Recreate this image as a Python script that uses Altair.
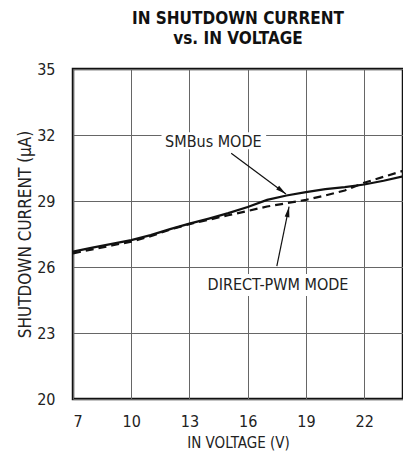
import altair as alt
import pandas as pd

# ---- data ----
volt = [7, 8, 9, 10, 11, 12, 13, 14, 15, 16, 17, 18, 19, 20, 21, 22, 23, 24]
smbus = [26.70, 26.88, 27.05, 27.22, 27.45, 27.72, 27.97, 28.20, 28.45, 28.73,
         29.05, 29.25, 29.40, 29.54, 29.63, 29.75, 29.92, 30.12]
pwm = [26.62, 26.80, 26.98, 27.15, 27.40, 27.70, 27.95, 28.15, 28.35, 28.55,
       28.75, 28.90, 29.05, 29.25, 29.48, 29.83, 30.10, 30.37]

x_ticks = [7, 10, 13, 16, 19, 22]
y_ticks = [20, 23, 26, 29, 32, 35]

labels = ["SMBus MODE", "DIRECT-PWM MODE"]
label_x = [14.23, 17.56]
label_y = [31.70, 25.18]
arrow_x1 = [15.15, 17.50]
arrow_y1 = [31.17, 26.04]
arrow_x2 = [17.97, 18.13]
arrow_y2 = [29.32, 28.74]
arrow_angle = [127, 11]
bg_x1 = [11.56, 13.77]
bg_x2 = [16.95, 21.30]
bg_y1 = [32.12, 25.68]
bg_y2 = [31.35, 24.68]

FONT = "Liberation Sans Narrow, DejaVu Sans Condensed, Arial Narrow, sans-serif"

lines_df = pd.DataFrame({
    "v": volt * 2,
    "i": smbus + pwm,
    "mode": ["SMBus"] * len(volt) + ["PWM"] * len(volt),
})
ann_df = pd.DataFrame({
    "label": labels, "lx": label_x, "ly": label_y,
    "x1": arrow_x1, "y1": arrow_y1, "x2": arrow_x2, "y2": arrow_y2,
    "angle": arrow_angle,
    "bx1": bg_x1, "bx2": bg_x2, "by1": bg_y1, "by2": bg_y2,
})

xs = alt.Scale(domain=[7, 24], nice=False, zero=False)
ys = alt.Scale(domain=[20, 35], nice=False, zero=False)

x_axis = alt.Axis(values=x_ticks, title="IN VOLTAGE (V)", grid=True, ticks=False,
                  domain=False, labelPadding=14, titlePadding=6, titleFontSize=15)
y_axis = alt.Axis(values=y_ticks, title="SHUTDOWN CURRENT (µA)", grid=True, ticks=False,
                  domain=False, labelPadding=18, titleX=-48, titleY=165,
                  titleBaseline="middle", titleAlign="center", titleFontSize=17)

base = alt.Chart(lines_df)

solid = base.transform_filter(alt.datum.mode == "SMBus").mark_line(
    color="#111", strokeWidth=2.2
).encode(x=alt.X("v:Q", scale=xs, axis=x_axis), y=alt.Y("i:Q", scale=ys, axis=y_axis))

dashed = base.transform_filter(alt.datum.mode == "PWM").mark_line(
    color="#111", strokeWidth=2.2, strokeDash=[8, 5]
).encode(x=alt.X("v:Q", scale=xs), y=alt.Y("i:Q", scale=ys))

ann = alt.Chart(ann_df)

bg = ann.mark_rect(color="white").encode(
    x=alt.X("bx1:Q", scale=xs), x2="bx2:Q",
    y=alt.Y("by1:Q", scale=ys), y2="by2:Q",
)

arrows = ann.mark_rule(color="#111", strokeWidth=1.2).encode(
    x=alt.X("x1:Q", scale=xs), y=alt.Y("y1:Q", scale=ys), x2="x2:Q", y2="y2:Q"
)

heads = ann.mark_point(
    shape="M0,0L0.6,2.6L-0.6,2.6Z", filled=True, color="#111", opacity=1, size=64
).encode(
    x=alt.X("x2:Q", scale=xs), y=alt.Y("y2:Q", scale=ys),
    angle=alt.Angle("angle:Q", scale=None),
)

texts = ann.mark_text(font=FONT, fontSize=16, color="#222").encode(
    x=alt.X("lx:Q", scale=xs), y=alt.Y("ly:Q", scale=ys), text="label:N"
)

chart = alt.layer(bg, solid, dashed, arrows, heads, texts).properties(
    width=330, height=330,
    background="white",
    title=alt.TitleParams(
        ["IN SHUTDOWN CURRENT", "vs. IN VOLTAGE"],
        font=FONT, fontSize=17, fontWeight="bold", lineHeight=20,
        anchor="middle", offset=13, color="#111",
    ),
    autosize=alt.AutoSizeParams(type="none"),
    padding={"left": 65, "top": 61, "right": 0, "bottom": 52},
).configure_view(
    stroke="#111", strokeWidth=2.5
).configure_axis(
    labelFont=FONT, labelFontSize=16, labelColor="#222",
    titleFont=FONT, titleFontWeight="normal", titleColor="#222",
    gridColor="#666", gridWidth=1, gridOpacity=1,
)

chart.save("out.html", embed_options={"renderer": "svg", "actions": False})
